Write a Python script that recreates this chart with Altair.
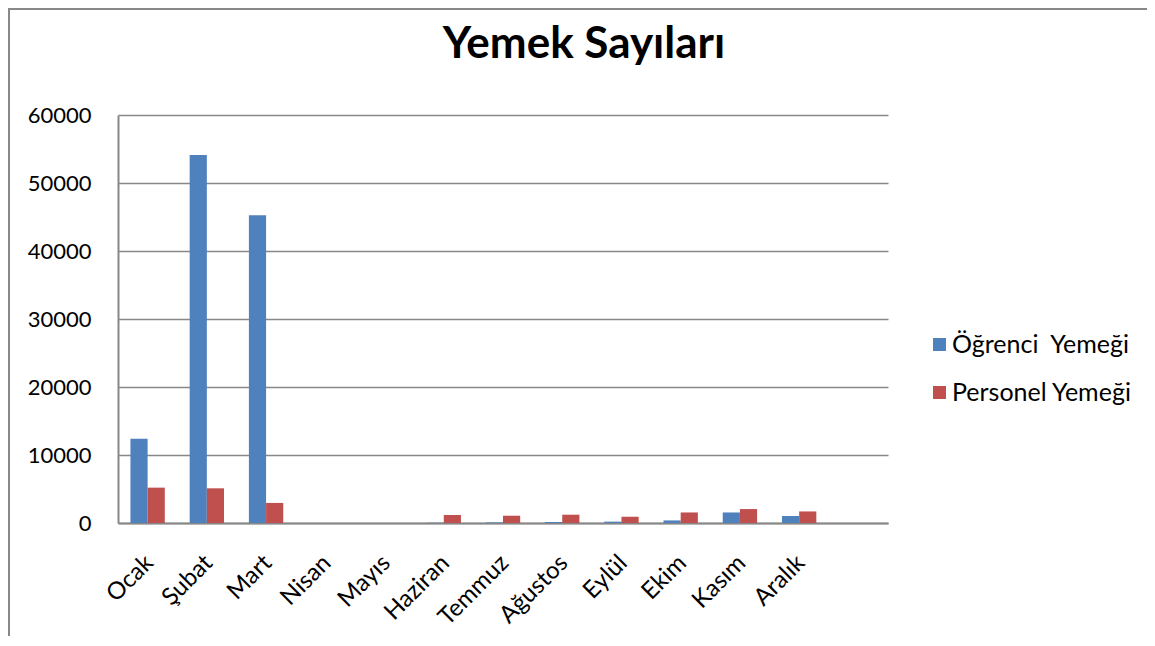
import altair as alt
import pandas as pd

months = ["Ocak", "Şubat", "Mart", "Nisan", "Mayıs", "Haziran", "Temmuz",
          "Ağustos", "Eylül", "Ekim", "Kasım", "Aralık"]
series_names = ["Öğrenci\u00a0 Yemeği", "Personel Yemeği"]
ogrenci = [12400, 54100, 45250, 0, 0, 40, 80, 150, 200, 380, 1550, 1030]
personel = [5200, 5100, 2950, 0, 0, 1180, 1070, 1220, 930, 1550, 2050, 1700]
y_ticks = [0, 10000, 20000, 30000, 40000, 50000, 60000]
x_domain = months + [" "]

rows = []
for i, m in enumerate(months):
    rows.append({"Ay": m, "Seri": series_names[0], "Değer": ogrenci[i]})
    rows.append({"Ay": m, "Seri": series_names[1], "Değer": personel[i]})
df = pd.DataFrame(rows)

FONT = "Lato"
GRAY = "#888888"

bars = alt.Chart(df).mark_bar().encode(
    x=alt.X("Ay:N", sort=x_domain,
            scale=alt.Scale(domain=x_domain, paddingInner=0.42, paddingOuter=0.21),
            axis=alt.Axis(title=None, labelAngle=-45, labelAlign="right",
                          labelBaseline="middle", labelPadding=36, labelOffset=2,
                          ticks=False, tickSize=0, domainColor=GRAY, domainWidth=2,
                          labelFont=FONT, labelFontSize=24, labelColor="#000000",
                          grid=False)),
    xOffset=alt.XOffset("Seri:N", sort=series_names),
    y=alt.Y("Değer:Q",
            scale=alt.Scale(domain=[0, 60000], nice=False),
            axis=alt.Axis(title=None, values=y_ticks, format="d", ticks=False, tickSize=0,
                          labelPadding=27, domainColor=GRAY, domainWidth=2,
                          gridColor=GRAY, gridWidth=1.5, grid=True,
                          labelFont=FONT, labelFontSize=22, labelColor="#000000")),
    color=alt.Color("Seri:N", sort=series_names,
                    scale=alt.Scale(domain=series_names, range=["#4F81BD", "#C0504D"]),
                    legend=alt.Legend(title=None, orient="none", legendX=809, legendY=217,
                                      symbolType="square", symbolSize=169,
                                      symbolStrokeWidth=0, labelFont=FONT,
                                      labelFontSize=25, labelColor="#000000",
                                      labelOffset=0, rowPadding=22, labelLimit=400)),
)

frame = alt.Chart(pd.DataFrame({"k": [0]})).mark_rect(
    filled=False, stroke=GRAY, strokeWidth=2
).encode(
    x=alt.value(-109), x2=alt.value(1045),
    y=alt.value(-106), y2=alt.value(560),
)

chart = alt.layer(frame, bars).properties(
    width=770, height=408,
    title=alt.TitleParams("Yemek Sayıları", font=FONT, fontSize=44, fontWeight="bold",
                          color="#000000", anchor="middle", frame="group",
                          baseline="alphabetic", offset=-94, dx=81),
    autosize=alt.AutoSizeParams(type="none"),
    padding={"left": 110, "top": 107, "right": 259, "bottom": 113},
).configure_view(stroke=None)

chart.save("out.html", embed_options={"renderer": "svg", "actions": False})
